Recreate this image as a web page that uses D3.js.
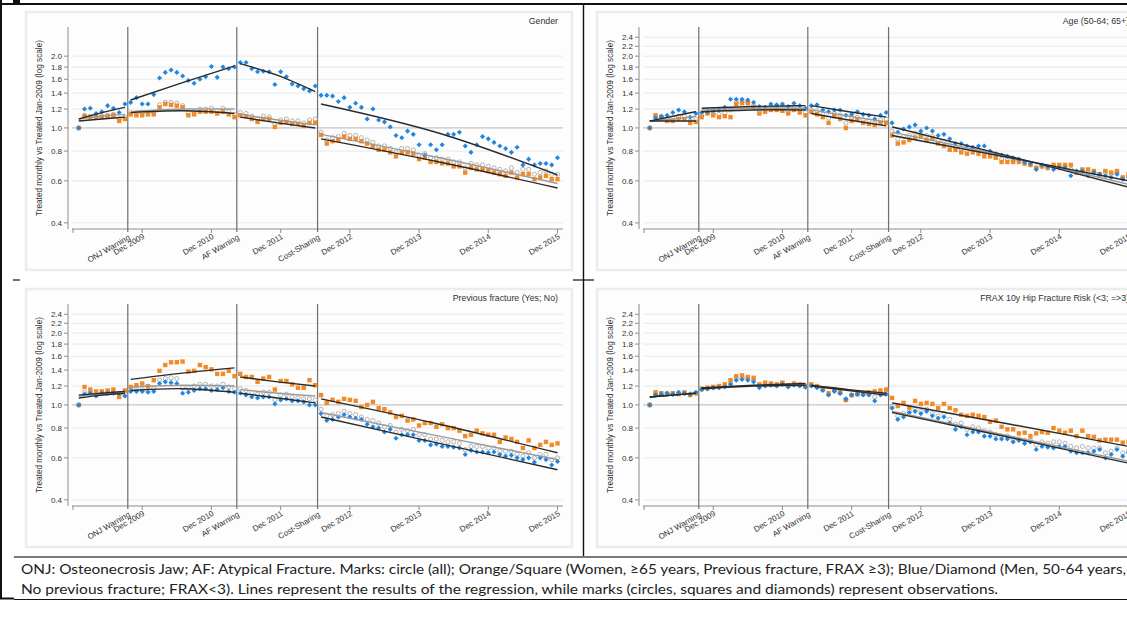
<!DOCTYPE html>
<html lang="en">
<head>
<meta charset="UTF-8">
<title>Treated monthly vs Treated Jan-2009</title>
<script src="https://d3js.org/d3.v7.min.js"></script>
<style>
  body {margin:0; background:#fff;}
  svg {display:block;}
</style>
</head>
<body>
<script>
    const width = 1127;
    const height = 630;

    // months since Dec 2008 (1 = Jan 2009 ... 84 = Dec 2015)
    const months = d3.range(1, 85);
    const tickMonths = [0, 12, 24, 36, 48, 60, 72, 84];
    const tickLabels = ["", "Dec 2009", "Dec 2010", "Dec 2011", "Dec 2012", "Dec 2013", "Dec 2014", "Dec 2015"];
    const eventMonths = [9.5, 28.4, 42.4];
    const eventLabels = ["ONJ Warning", "AF Warning", "Cost-Sharing"];
    const segments = [[1, 9], [10, 28], [29, 42], [43, 84]];

    const ticksGender = [0.4, 0.6, 0.8, 1.0, 1.2, 1.4, 1.6, 1.8, 2.0];
    const ticksOther  = [0.4, 0.6, 0.8, 1.0, 1.2, 1.4, 1.6, 1.8, 2.0, 2.2, 2.4];

    // ---- Gender (orange = women, blue = men)
    const genderAll = [1.00,1.13,1.12,1.12,1.12,1.13,1.14,1.09,1.11,
        1.16,1.15,1.15,1.16,1.16,1.25,1.28,1.28,1.27,1.24,1.16,1.17,1.20,1.20,1.21,1.18,1.21,1.17,1.14,
        1.16,1.15,1.12,1.09,1.12,1.11,1.04,1.08,1.09,1.07,1.07,1.05,1.08,1.09,
        0.96,0.89,0.91,0.92,0.95,0.93,0.93,0.91,0.89,0.87,0.84,0.84,0.82,0.79,0.82,0.82,0.81,0.77,0.78,0.75,
        0.75,0.74,0.74,0.72,0.72,0.68,0.71,0.70,0.70,0.69,0.68,0.67,0.66,0.68,0.65,0.67,0.67,0.64,0.65,0.66,0.64,0.64];
    const genderWomen = [1.00,1.12,1.11,1.11,1.11,1.12,1.13,1.07,1.09,
        1.14,1.13,1.13,1.14,1.14,1.22,1.26,1.25,1.24,1.22,1.13,1.14,1.17,1.17,1.17,1.15,1.17,1.14,1.11,
        1.13,1.12,1.09,1.06,1.09,1.09,1.01,1.05,1.06,1.04,1.04,1.02,1.05,1.05,
        0.935,0.86,0.88,0.89,0.92,0.90,0.90,0.88,0.86,0.84,0.81,0.81,0.79,0.76,0.79,0.79,0.78,0.74,0.75,0.72,
        0.72,0.71,0.71,0.69,0.69,0.65,0.68,0.67,0.67,0.66,0.65,0.64,0.63,0.65,0.62,0.64,0.64,0.61,0.62,0.63,0.61,0.61];
    const genderMen = [1.00,1.20,1.21,1.15,1.17,1.24,1.21,1.16,1.26,
        1.28,1.34,1.26,1.26,1.38,1.62,1.71,1.75,1.71,1.65,1.58,1.54,1.60,1.64,1.81,1.63,1.80,1.77,1.80,
        1.88,1.88,1.77,1.72,1.73,1.72,1.52,1.72,1.64,1.53,1.50,1.46,1.43,1.50,
        1.37,1.37,1.36,1.29,1.34,1.22,1.27,1.22,1.09,1.20,1.08,1.06,1.01,0.93,0.91,0.97,0.94,0.85,0.77,0.85,
        0.81,0.85,0.94,0.94,0.96,0.84,0.79,0.85,0.92,0.90,0.87,0.84,0.82,0.79,0.83,0.70,0.74,0.70,0.71,0.71,0.70,0.75];
    // regression fits: value at start, middle and end of each segment
    const genderFitAll   = [[1.09,1.12,1.14],[1.17,1.20,1.20],[1.14,1.08,1.03],[0.94,0.75,0.585]];
    const genderFitWomen = [[1.07,1.09,1.11],[1.16,1.18,1.15],[1.11,1.05,1.00],[0.90,0.72,0.56]];
    const genderFitMen   = [[1.09,1.16,1.22],[1.31,1.55,1.82],[1.86,1.66,1.42],[1.26,0.95,0.635]];

    // ---- Age (orange = 65+, blue = 50-64)
    const ageAll = [1.00,1.12,1.11,1.09,1.10,1.12,1.12,1.07,1.09,
        1.13,1.16,1.15,1.14,1.16,1.19,1.28,1.29,1.28,1.24,1.18,1.19,1.22,1.21,1.21,1.18,1.22,1.19,1.16,
        1.19,1.18,1.14,1.10,1.15,1.13,1.05,1.10,1.11,1.08,1.07,1.05,1.08,1.09,
        0.97,0.90,0.92,0.93,0.95,0.94,0.93,0.92,0.89,0.88,0.85,0.83,0.82,0.80,0.81,0.80,0.79,0.78,0.76,0.74,
        0.74,0.73,0.73,0.71,0.70,0.68,0.69,0.68,0.69,0.69,0.69,0.67,0.65,0.66,0.65,0.65,0.64,0.65,0.64,0.65,0.62,0.63];
    const ageOld = [1.00,1.13,1.11,1.07,1.07,1.09,1.09,1.05,1.06,
        1.11,1.15,1.13,1.11,1.12,1.11,1.26,1.27,1.27,1.22,1.15,1.17,1.19,1.19,1.18,1.15,1.19,1.16,1.13,
        1.17,1.14,1.11,1.05,1.12,1.09,1.00,1.07,1.08,1.05,1.04,1.03,1.05,1.05,
        0.93,0.86,0.87,0.89,0.91,0.92,0.89,0.90,0.86,0.84,0.81,0.81,0.79,0.78,0.79,0.78,0.76,0.76,0.75,0.72,
        0.72,0.72,0.72,0.71,0.70,0.68,0.69,0.68,0.70,0.70,0.70,0.70,0.65,0.67,0.67,0.66,0.64,0.66,0.65,0.66,0.62,0.64];
    const ageYoung = [1.00,1.10,1.12,1.13,1.16,1.19,1.17,1.11,1.15,
        1.16,1.17,1.18,1.19,1.22,1.32,1.32,1.32,1.31,1.28,1.23,1.22,1.26,1.25,1.26,1.23,1.27,1.24,1.21,
        1.24,1.25,1.19,1.17,1.19,1.19,1.13,1.14,1.17,1.14,1.13,1.09,1.13,1.16,
        1.05,0.96,0.99,1.01,1.03,0.97,1.00,0.97,0.93,0.94,0.90,0.86,0.86,0.84,0.83,0.84,0.84,0.80,0.78,0.77,
        0.76,0.75,0.74,0.72,0.71,0.67,0.70,0.69,0.67,0.68,0.68,0.63,0.66,0.66,0.63,0.65,0.64,0.63,0.62,0.64,0.61,0.62];
    const ageFitAll   = [[1.07,1.09,1.12],[1.19,1.21,1.21],[1.19,1.12,1.06],[0.96,0.755,0.58]];
    const ageFitOld   = [[1.07,1.07,1.07],[1.17,1.19,1.19],[1.15,1.08,1.02],[0.93,0.75,0.60]];
    const ageFitYoung = [[1.07,1.12,1.17],[1.21,1.23,1.24],[1.24,1.17,1.11],[1.01,0.76,0.565]];

    // ---- Previous fracture (orange = yes, blue = no)
    const fxAll = [1.00,1.13,1.13,1.10,1.12,1.13,1.13,1.11,1.11,
        1.15,1.16,1.16,1.15,1.17,1.27,1.29,1.30,1.29,1.18,1.18,1.20,1.22,1.22,1.20,1.20,1.22,1.19,1.17,
        1.17,1.15,1.13,1.11,1.13,1.13,1.05,1.10,1.11,1.08,1.07,1.06,1.06,1.05,
        0.96,0.90,0.91,0.92,0.94,0.92,0.91,0.89,0.87,0.86,0.84,0.81,0.82,0.77,0.79,0.78,0.79,0.75,0.75,0.72,
        0.72,0.71,0.70,0.70,0.69,0.65,0.67,0.67,0.67,0.66,0.66,0.64,0.64,0.64,0.62,0.61,0.63,0.60,0.62,0.62,0.59,0.60];
    const fxYes = [1.00,1.19,1.16,1.14,1.14,1.15,1.16,1.08,1.15,
        1.19,1.21,1.23,1.20,1.27,1.39,1.47,1.51,1.51,1.52,1.38,1.39,1.47,1.44,1.41,1.35,1.35,1.39,1.32,
        1.35,1.31,1.31,1.25,1.29,1.31,1.16,1.26,1.26,1.22,1.18,1.18,1.27,1.21,
        1.10,1.02,1.05,1.03,1.06,1.05,1.04,0.98,1.00,1.03,0.97,0.96,0.93,0.89,0.90,0.86,0.87,0.82,0.84,0.84,
        0.81,0.83,0.80,0.80,0.78,0.74,0.75,0.78,0.76,0.75,0.75,0.70,0.73,0.72,0.70,0.66,0.71,0.66,0.68,0.70,0.68,0.69];
    const fxNo = [1.00,1.11,1.12,1.09,1.12,1.12,1.12,1.12,1.09,
        1.14,1.14,1.14,1.13,1.14,1.23,1.25,1.24,1.23,1.12,1.13,1.15,1.17,1.17,1.15,1.16,1.18,1.14,1.13,
        1.12,1.10,1.08,1.07,1.08,1.08,1.01,1.05,1.06,1.04,1.04,1.03,1.00,1.00,
        0.92,0.86,0.87,0.89,0.91,0.89,0.88,0.87,0.83,0.81,0.80,0.77,0.79,0.725,0.75,0.75,0.75,0.71,0.71,0.68,
        0.685,0.67,0.67,0.665,0.66,0.62,0.645,0.635,0.635,0.63,0.635,0.62,0.61,0.615,0.60,0.59,0.60,0.575,0.60,0.59,0.56,0.58];
    const fxFitAll = [[1.09,1.11,1.13],[1.19,1.21,1.20],[1.16,1.12,1.09],[0.93,0.74,0.59]];
    const fxFitYes = [[1.10,1.12,1.14],[1.28,1.36,1.43],[1.31,1.25,1.20],[1.06,0.83,0.63]];
    const fxFitNo  = [[1.07,1.10,1.12],[1.15,1.17,1.13],[1.12,1.07,1.02],[0.89,0.69,0.535]];

    // ---- FRAX (orange = >=3, blue = <3)
    const fraxAll = [1.00,1.11,1.11,1.12,1.11,1.12,1.12,1.11,1.12,
        1.16,1.17,1.18,1.19,1.20,1.24,1.29,1.30,1.29,1.27,1.20,1.22,1.22,1.21,1.23,1.20,1.22,1.21,1.19,
        1.21,1.19,1.16,1.11,1.15,1.12,1.05,1.10,1.11,1.11,1.11,1.08,1.12,1.13,
        0.99,0.90,0.92,0.94,0.96,0.94,0.96,0.92,0.90,0.92,0.87,0.83,0.84,0.79,0.81,0.80,0.78,0.77,0.75,0.74,
        0.74,0.72,0.72,0.71,0.71,0.68,0.70,0.69,0.70,0.70,0.69,0.67,0.66,0.67,0.66,0.66,0.66,0.63,0.64,0.66,0.63,0.64];
    const fraxHigh = [1.00,1.13,1.12,1.11,1.12,1.11,1.13,1.10,1.12,
        1.17,1.18,1.19,1.20,1.22,1.27,1.32,1.33,1.31,1.30,1.22,1.24,1.23,1.22,1.24,1.21,1.23,1.22,1.20,
        1.22,1.20,1.17,1.12,1.16,1.13,1.05,1.10,1.11,1.12,1.13,1.14,1.15,1.16,
        1.07,0.99,1.02,0.975,1.04,1.01,1.02,1.01,0.97,1.01,0.97,0.95,0.91,0.90,0.91,0.90,0.89,0.85,0.86,0.81,
        0.79,0.79,0.76,0.765,0.74,0.76,0.77,0.765,0.80,0.78,0.765,0.78,0.74,0.78,0.74,0.735,0.71,0.715,0.715,0.715,0.695,0.70];
    const fraxLow = [1.00,1.10,1.11,1.12,1.11,1.13,1.12,1.11,1.13,
        1.16,1.17,1.18,1.18,1.19,1.22,1.27,1.28,1.27,1.25,1.18,1.20,1.21,1.20,1.22,1.19,1.21,1.20,1.19,
        1.20,1.18,1.15,1.10,1.14,1.12,1.06,1.10,1.11,1.10,1.10,1.04,1.10,1.11,
        0.97,0.87,0.89,0.93,0.94,0.92,0.94,0.90,0.88,0.89,0.84,0.79,0.81,0.75,0.77,0.77,0.74,0.74,0.72,0.72,
        0.72,0.70,0.71,0.69,0.70,0.65,0.67,0.665,0.66,0.67,0.67,0.64,0.63,0.63,0.63,0.64,0.65,0.60,0.62,0.65,0.61,0.63];
    const fraxFitAll  = [[1.08,1.10,1.12],[1.175,1.205,1.22],[1.205,1.155,1.11],[0.94,0.74,0.58]];
    const fraxFitHigh = [[1.08,1.10,1.12],[1.18,1.21,1.23],[1.21,1.16,1.12],[1.02,0.83,0.67]];
    const fraxFitLow  = [[1.08,1.10,1.12],[1.17,1.20,1.21],[1.20,1.15,1.10],[0.93,0.73,0.57]];

    const panels = [
        {dx: 0,   dy: 0,   title: "Gender", ticks: ticksGender,
         all: genderAll, orange: genderWomen, blue: genderMen,
         fitAll: genderFitAll, fitOrange: genderFitWomen, fitBlue: genderFitMen},
        {dx: 571, dy: 0,   title: "Age (50-64; 65+)", ticks: ticksOther,
         all: ageAll, orange: ageOld, blue: ageYoung,
         fitAll: ageFitAll, fitOrange: ageFitOld, fitBlue: ageFitYoung},
        {dx: 0,   dy: 277, title: "Previous fracture (Yes; No)", ticks: ticksOther,
         all: fxAll, orange: fxYes, blue: fxNo,
         fitAll: fxFitAll, fitOrange: fxFitYes, fitBlue: fxFitNo},
        {dx: 571, dy: 277, title: "FRAX 10y Hip Fracture Risk (<3; =>3)", ticks: ticksOther,
         all: fraxAll, orange: fraxHigh, blue: fraxLow,
         fitAll: fraxFitAll, fitOrange: fraxFitHigh, fitBlue: fraxFitLow}
    ];

    const orange = "#f28a26";
    const blue = "#1f87e2";
    const font = "'Liberation Sans', Arial, sans-serif";

    const svg = d3.select("body").append("svg")
            .attr("width", width).attr("height", height)
            .style("font-family", font);

    const x = d3.scaleLinear().domain([0, 84]).range([73, 557.5]);
    const y = d3.scaleLog().domain([0.377, 2.65]).range([229, 27]);

    const fitLine = d3.line()
            .x(d => x(d[0])).y(d => y(d[1]))
            .curve(d3.curveNatural);

    function fitPoints(fit, i) {
        const [a, b] = segments[i];
        return [[a, fit[0]], [(a + b) / 2, fit[1]], [b, fit[2]]];
    }

    function drawPanel(p) {
        const g = svg.append("g").attr("transform", `translate(${p.dx},${p.dy})`);

        // graph region
        g.append("rect")
                .attr("x", 26).attr("y", 12).attr("width", 546).attr("height", 258)
                .style("fill", "#fdfdfd").style("stroke", "#ececec").style("stroke-width", 2.5);

        // horizontal grid
        g.selectAll("line.grid").data(p.ticks).enter().append("line")
                .attr("class", "grid")
                .attr("x1", 72).attr("x2", 563)
                .attr("y1", d => y(d)).attr("y2", d => y(d))
                .style("stroke", d => d === 1 ? "#c4c4c4" : "#e9e9e9")
                .style("stroke-width", d => d === 1 ? 1.3 : 1);

        // y axis
        g.append("line").attr("x1", 68).attr("x2", 68).attr("y1", 27).attr("y2", 229)
                .style("stroke", "#8c8c8c");
        g.selectAll("line.ytick").data(p.ticks).enter().append("line")
                .attr("class", "ytick")
                .attr("x1", 64).attr("x2", 68)
                .attr("y1", d => y(d)).attr("y2", d => y(d))
                .style("stroke", "#8c8c8c");
        g.selectAll("text.ylab").data(p.ticks).enter().append("text")
                .attr("class", "ylab")
                .attr("x", 62).attr("y", d => y(d)).attr("dy", "0.34em")
                .attr("text-anchor", "end")
                .style("font-size", "8px").style("fill", "#333")
                .text(d => d3.format(".1f")(d));
        g.append("text")
                .attr("transform", "translate(41.5,128) rotate(-90)")
                .attr("text-anchor", "middle")
                .style("font-size", "8.2px").style("fill", "#333")
                .text("Treated monthly vs Treated Jan-2009 (log scale)");

        // x axis
        g.append("line").attr("x1", 72).attr("x2", 563).attr("y1", 229).attr("y2", 229)
                .style("stroke", "#8c8c8c");
        g.selectAll("line.xtick").data(tickMonths).enter().append("line")
                .attr("class", "xtick")
                .attr("x1", d => x(d)).attr("x2", d => x(d))
                .attr("y1", 229).attr("y2", 233)
                .style("stroke", "#8c8c8c");
        g.selectAll("text.xlab").data(tickMonths).enter().append("text")
                .attr("class", "xlab")
                .attr("transform", d => `translate(${x(d) + 3},238) rotate(-30)`)
                .attr("text-anchor", "end")
                .style("font-size", "8px").style("fill", "#333")
                .text((d, i) => tickLabels[i]);

        // event lines
        g.selectAll("line.event").data(eventMonths).enter().append("line")
                .attr("class", "event")
                .attr("x1", d => x(d)).attr("x2", d => x(d))
                .attr("y1", 27).attr("y2", 232)
                .style("stroke", "#6e6e6e").style("stroke-width", 1.2);
        g.selectAll("text.event").data(eventMonths).enter().append("text")
                .attr("class", "event")
                .attr("transform", d => `translate(${x(d) + 3},239) rotate(-30)`)
                .attr("text-anchor", "end")
                .style("font-size", "8px").style("fill", "#333")
                .text((d, i) => eventLabels[i]);

        // title
        g.append("text")
                .attr("x", 558).attr("y", 24)
                .attr("text-anchor", "end")
                .style("font-size", "8.8px").style("fill", "#333")
                .text(p.title);

        // observations
        g.selectAll("circle.all").data(months).enter().append("circle")
                .attr("class", "all")
                .attr("cx", d => x(d)).attr("cy", (d, i) => y(p.all[i]))
                .attr("r", 2.1)
                .style("fill", "none").style("stroke", "#b4b4b4").style("stroke-width", 1);

        g.selectAll("rect.orange").data(months).enter().append("rect")
                .attr("class", "orange")
                .attr("x", d => x(d) - 2.2).attr("y", (d, i) => y(p.orange[i]) - 2.2)
                .attr("width", 4.4).attr("height", 4.4)
                .style("fill", orange);

        g.selectAll("rect.blue").data(months).enter().append("rect")
                .attr("class", "blue")
                .attr("width", 3.6).attr("height", 3.6)
                .attr("transform", (d, i) => `translate(${x(d)},${y(p.blue[i])}) rotate(45) translate(-1.8,-1.8)`)
                .style("fill", blue);

        // regression lines
        const fits = [
            {fit: p.fitAll, color: "#9a9a9a"},
            {fit: p.fitOrange, color: "#2a2a2a"},
            {fit: p.fitBlue, color: "#2a2a2a"}
        ];
        fits.forEach(f => {
            g.selectAll(null).data(f.fit).enter().append("path")
                    .attr("d", (d, i) => fitLine(fitPoints(d, i)))
                    .style("fill", "none")
                    .style("stroke", f.color)
                    .style("stroke-width", 1.4);
        });
    }

    panels.forEach(drawPanel);

    // table frame
    const frame = svg.append("g").style("stroke", "#111");
    frame.append("line").attr("x1", 0).attr("x2", width).attr("y1", 4).attr("y2", 4).style("stroke-width", 2);
    frame.append("line").attr("x1", 1).attr("x2", 1).attr("y1", 0).attr("y2", 599).style("stroke-width", 2);
    frame.append("line").attr("x1", 583.5).attr("x2", 583.5).attr("y1", 4).attr("y2", 557).style("stroke-width", 1.4);
    frame.append("line").attr("x1", 13).attr("x2", 20).attr("y1", 280).attr("y2", 280).style("stroke-width", 1.2);
    frame.append("line").attr("x1", 573).attr("x2", 594).attr("y1", 280).attr("y2", 280).style("stroke-width", 1.2);
    frame.append("line").attr("x1", 14).attr("x2", width).attr("y1", 557).attr("y2", 557)
            .style("stroke", "#7a7a7a").style("stroke-width", 2.2);
    frame.append("line").attr("x1", 0).attr("x2", 14).attr("y1", 598.5).attr("y2", 598.5).style("stroke-width", 2);
    frame.append("line").attr("x1", 14).attr("x2", width).attr("y1", 599.5).attr("y2", 599.5).style("stroke-width", 1.2);
    frame.append("line").attr("x1", 13).attr("x2", 20).attr("y1", 1.5).attr("y2", 1.5).style("stroke-width", 3);

    // caption
    const captionLines = [
        "ONJ: Osteonecrosis Jaw; AF: Atypical Fracture. Marks: circle (all); Orange/Square (Women, \u226565 years, Previous fracture, FRAX \u22653); Blue/Diamond (Men, 50-64 years,",
        "No previous fracture; FRAX<3). Lines represent the results of the regression, while marks (circles, squares and diamonds) represent observations."
    ];
    const captionWidths = [1105, 977];
    svg.selectAll("text.caption").data(captionLines).enter().append("text")
            .attr("class", "caption")
            .attr("x", 21).attr("y", (d, i) => 574 + i * 20)
            .attr("textLength", (d, i) => captionWidths[i])
            .attr("lengthAdjust", "spacingAndGlyphs")
            .style("font-family", "Lato, 'Open Sans', sans-serif")
            .style("font-size", "14px").style("fill", "#222")
            .text(d => d);
</script>
</body>
</html>
